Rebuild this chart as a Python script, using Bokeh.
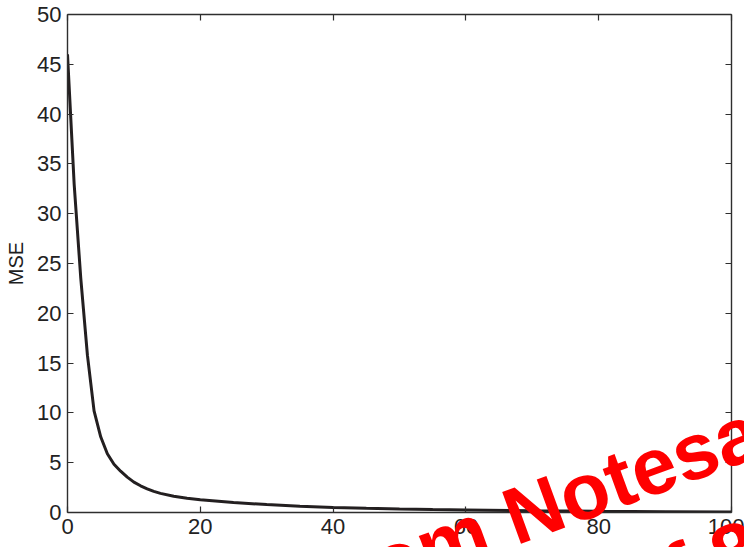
from bokeh.plotting import figure
from bokeh.models import Range1d, LinearAxis, FixedTicker, Div
from bokeh.layouts import column
from bokeh.embed import file_html
from bokeh.resources import INLINE

# ---- data ----
epochs = [0, 1, 2, 3, 4, 5, 6, 7, 8, 9, 10, 11, 12, 13, 14, 16, 18, 20,
          25, 30, 35, 40, 45, 50, 55, 60, 70, 80, 90, 100]
mse = [46.0, 33.0, 23.5, 15.8, 10.2, 7.6, 5.9, 4.85, 4.15, 3.55, 3.05, 2.68,
       2.38, 2.12, 1.92, 1.63, 1.43, 1.27, 1.0, 0.8, 0.62, 0.5, 0.42, 0.35,
       0.3, 0.26, 0.18, 0.12, 0.08, 0.05]
x_ticks = [0, 20, 40, 60, 80, 100]
y_ticks = [0, 5, 10, 15, 20, 25, 30, 35, 40, 45, 50]
y_label = "MSE"
watermark_1 = "Preview from Notesale.co.uk"
watermark_2 = "Page 5 of 8"

FONT = "Liberation Sans"
AX = "#2e2e2e"

p = figure(width=744, height=547, output_backend="svg", toolbar_location=None,
           x_range=Range1d(0, 100), y_range=Range1d(0, 50),
           min_border_left=67, min_border_right=13, min_border_top=14,
           min_border_bottom=35)
p.background_fill_color = "white"
p.border_fill_color = "white"
p.outline_line_color = None
p.xgrid.visible = False
p.ygrid.visible = False

p.line(epochs, mse, line_width=3, line_color="#231f20")

def style(ax, ticks, labels=True):
    ax.ticker = FixedTicker(ticks=ticks)
    ax.axis_line_color = AX
    ax.axis_line_width = 1.4
    ax.major_tick_line_color = AX
    ax.major_tick_line_width = 1.2
    ax.major_tick_in = 6
    ax.major_tick_out = 0
    ax.minor_tick_line_color = None
    ax.major_label_text_font = FONT
    ax.major_label_text_font_size = "22px"
    ax.major_label_text_color = "#222222"
    if not labels:
        ax.major_label_text_color = None
        ax.major_label_text_font_size = "1px"
        ax.major_label_standoff = 0

style(p.xaxis[0], x_ticks)
style(p.yaxis[0], y_ticks)
p.xaxis[0].major_label_standoff = 6
p.yaxis[0].major_label_standoff = 6
p.yaxis[0].axis_label = y_label
p.yaxis[0].axis_label_text_font = FONT
p.yaxis[0].axis_label_text_font_size = "20px"
p.yaxis[0].axis_label_text_font_style = "normal"
p.yaxis[0].axis_label_text_color = "#1e1e1e"
p.yaxis[0].axis_label_standoff = 7

top = LinearAxis()
right = LinearAxis()
style(top, x_ticks, labels=False)
style(right, y_ticks, labels=False)
p.add_layout(top, "above")
p.add_layout(right, "right")

# watermark overlay (real text, rotated), on top of the figure
span_css = ("position:absolute;white-space:nowrap;line-height:1;"
            "font-family:'Liberation Sans',Arial,sans-serif;font-weight:bold;"
            "font-size:80px;color:#ff0000;")
wm_html = (
    '<div style="position:relative;width:744px;height:547px;overflow:hidden;">'
    f'<span style="{span_css}left:0px;top:662px;transform-origin:0 0;'
    f'transform:rotate(-20deg);">{watermark_1}</span>'
    f'<span style="{span_css}right:2px;top:507px;transform-origin:100% 0;'
    f'transform:rotate(-20deg);">{watermark_2}</span>'
    '</div>'
)
wm = Div(text=wm_html, width=744, height=547,
         styles={"position": "absolute", "left": "0px", "top": "0px",
                 "pointer-events": "none", "margin": "0px"})

layout = column(p, wm, styles={"position": "relative"})

open("out.html", "w").write(file_html(layout, INLINE))
